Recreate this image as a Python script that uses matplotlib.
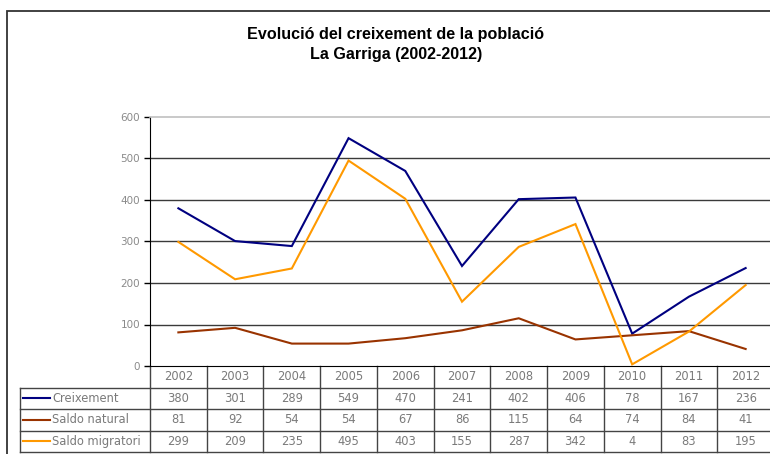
import matplotlib.pyplot as plt
from matplotlib.patches import Rectangle

anys = ["2002", "2003", "2004", "2005", "2006", "2007", "2008", "2009", "2010", "2011", "2012"]
creixement = [380, 301, 289, 549, 470, 241, 402, 406, 78, 167, 236]
saldo_natural = [81, 92, 54, 54, 67, 86, 115, 64, 74, 84, 41]
saldo_migratori = [299, 209, 235, 495, 403, 155, 287, 342, 4, 83, 195]

series = [
    ("Creixement", creixement, "#000080"),
    ("Saldo natural", saldo_natural, "#993300"),
    ("Saldo migratori", saldo_migratori, "#FF9900"),
]

W, H = 770, 454
fig = plt.figure(figsize=(W / 100, H / 100), dpi=100)

# marc exterior del gràfic
fig.patches.append(Rectangle((7 / W, -0.1), 1.2, 1.1 - 11 / H, transform=fig.transFigure,
                             fill=False, edgecolor="#333333", linewidth=1.3))

ax = fig.add_axes([150 / W, (H - 366) / H, 624 / W, 249 / H])
x = list(range(len(anys)))
for nom, vals, color in series:
    ax.plot(x, vals, color=color, linewidth=1.5, solid_joinstyle="miter")

ax.set_xlim(-0.5, len(anys) - 0.5)
ax.set_ylim(0, 600)
ax.set_yticks(range(0, 601, 100))
ax.set_xticks([])
ax.tick_params(axis="y", direction="out", length=4, width=1, color="black",
               labelcolor="#8a8a8a", labelsize=7.5, pad=3)
for y in range(100, 600, 100):
    ax.axhline(y, color="#3a3a3a", linewidth=1, zorder=0)
ax.spines["right"].set_visible(False)
ax.spines["top"].set_color("#c0c0c0")
ax.spines["top"].set_linewidth(1.2)
ax.spines["left"].set_color("black")
ax.spines["bottom"].set_color("black")

# taula de dades sota el gràfic
tr = ax.get_xaxis_transform()
h = 21.5 / 249
x_left = -0.5 - 130 / 56.7
x_right = len(anys) - 0.5
lc = "#444444"
for k in range(len(anys) + 1):
    ax.plot([k - 0.5, k - 0.5], [0, -4 * h], color=lc, linewidth=1, transform=tr, clip_on=False)
for r in range(1, 5):
    ax.plot([x_left, x_right], [-r * h, -r * h], color=lc, linewidth=1, transform=tr, clip_on=False)
ax.plot([x_left, x_left], [-h, -4 * h], color=lc, linewidth=1, transform=tr, clip_on=False)

txt = dict(color="#7a7a7a", fontsize=8.3, ha="center", va="center", transform=tr, clip_on=False)
for i, a in enumerate(anys):
    ax.text(i, -0.5 * h, a, **txt)
for r, (nom, vals, color) in enumerate(series, start=1):
    yc = -(r + 0.5) * h
    for i, v in enumerate(vals):
        ax.text(i, yc, str(v), **txt)
    ax.plot([-0.5 - 127 / 56.7, -0.5 - 100 / 56.7], [yc, yc], color=color, linewidth=1.5,
            transform=tr, clip_on=False)
    ax.text(-0.5 - 98 / 56.7, yc, nom, color="#7a7a7a", fontsize=8.3, ha="left", va="center",
            transform=tr, clip_on=False)

fig.text(396 / W, 1 - 35 / H, "Evolució del creixement de la població", ha="center", va="center",
         fontsize=11.6, fontweight="bold", family="Liberation Sans")
fig.text(396 / W, 1 - 55 / H, "La Garriga (2002-2012)", ha="center", va="center",
         fontsize=11.6, fontweight="bold", family="Liberation Sans")

fig.savefig("out.png", dpi=100)
